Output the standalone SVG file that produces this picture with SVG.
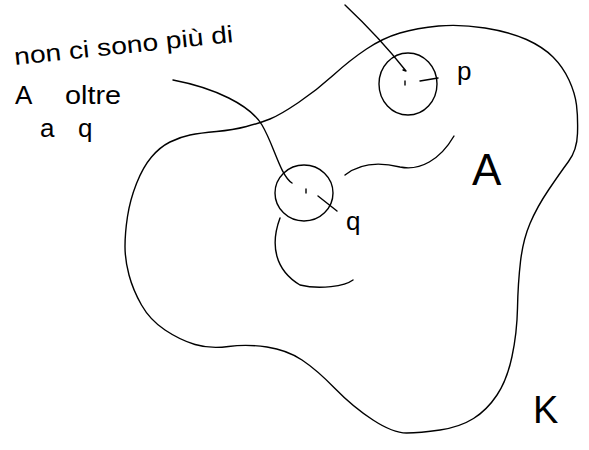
<svg xmlns="http://www.w3.org/2000/svg" width="589" height="450" viewBox="0 0 589 450">
<style>
.s{fill:none;stroke:#000;stroke-width:1.4;stroke-linecap:round;stroke-linejoin:round}
.t{font-family:"Liberation Sans",Arial,sans-serif;fill:#000}
</style>
<rect width="589" height="450" fill="#fff"/>
<g id="setK">
<path class="s" d="M 298.5 102.5 Q 317 90 333.5 75 Q 350 60 366.5 49 Q 383 38 400 33 Q 417 28 438.5 26 Q 460 24 485 28 Q 510 32 526.5 39.5 Q 543 47 553 57 Q 563 67 569 80 Q 575 93 576.5 105 Q 578 117 577.5 133.5 Q 577 150 568.5 161.5 Q 560 173 548.5 190 Q 537 207 530 223.5 Q 523 240 520.5 261.5 Q 518 283 517.5 308 Q 517 333 512 356.5 Q 507 380 497 395 Q 487 410 473.5 418.5 Q 460 427 440 430 Q 420 433 406.5 433 Q 393 433 373 420 Q 353 407 335 388.5 Q 317 370 302 360 Q 287 350 267 347 Q 247 344 228.5 346.5 Q 210 349 195 344.5 Q 180 340 165 330 Q 150 320 141.5 305 Q 133 290 129 275 Q 125 260 125 246.5 Q 125 233 127.5 216.5 Q 130 200 136.5 183.5 Q 143 167 151.5 157 Q 160 147 170 142 Q 180 137 190 135 Q 200 133 216.5 131.5 Q 233 130 246.5 126.5 Q 260 123 270 119 Q 280 115 298.5 102.5 Z"/>
<text class="t" x="533" y="423" font-size="38">K</text>
</g>
<g id="setA">
<path class="s" d="M 345 175 C 360 163 380 162 400 167 C 420 171 440 160 454 136"/>
<path class="s" d="M 280 218 C 270 245 275 270 300 285 C 320 290 345 286 353 280"/>
<text class="t" x="472" y="185" font-size="44">A</text>
</g>
<g id="nodeP">
<ellipse class="s" cx="408" cy="84" rx="29" ry="31"/>
<path class="s" d="M 405 81 L 405 85"/>
<path class="s" d="M 420 81 L 438 78"/>
<text class="t" x="457" y="80" font-size="26">p</text>
</g>
<g id="nodeQ">
<ellipse class="s" cx="304" cy="193" rx="29" ry="28"/>
<path class="s" d="M 306 189 L 306 193"/>
<path class="s" d="M 318 196 L 337 211"/>
<text class="t" x="346" y="230" font-size="26">q</text>
</g>
<g id="note">
<text class="t" x="15" y="65" font-size="24" textLength="220" lengthAdjust="spacingAndGlyphs" transform="rotate(-6 15 65)">non ci sono più di</text>
<text class="t" x="15" y="104" font-size="26">A <tspan x="65" textLength="56" lengthAdjust="spacingAndGlyphs">oltre</tspan></text>
<text class="t" x="40" y="137" font-size="26">a <tspan x="78">q</tspan></text>
</g>
<g id="connectors">
<path class="s" d="M 173 80 C 215 88 250 105 262 125 S 280 175 292 183"/>
<path class="s" d="M 345 5 Q 380 38 406 71 L 403 70"/>
</g>
</svg>
